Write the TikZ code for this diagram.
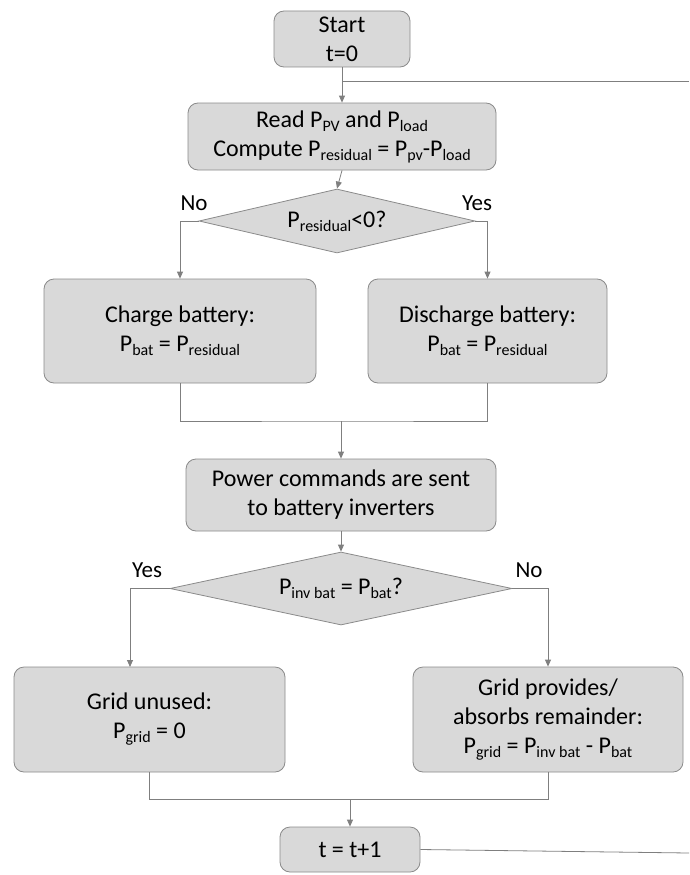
\documentclass[tikz,border=0pt]{standalone}
\usepackage{fontspec}
\setmainfont{Carlito}
\usetikzlibrary{shapes.geometric,arrows.meta}
\definecolor{boxfill}{HTML}{D9D9D9}
\definecolor{boxedge}{HTML}{8A8A8A}
\definecolor{linegray}{HTML}{7F7F7F}
\newcommand{\lowsub}[1]{\raisebox{-4pt}{\fontsize{16}{16}\selectfont #1}}
\tikzset{
	flowbox/.style={draw=boxedge, fill=boxfill, line width=0.8pt, rounded corners=10pt, align=center, inner sep=0pt, font=\fontsize{24}{29}\selectfont},
	decision/.style={draw=boxedge, fill=boxfill, line width=0.8pt, diamond, inner sep=0pt, font=\fontsize{24}{29}\selectfont},
	flowline/.style={draw=linegray, line width=0.8pt},
	flowarrow/.style={flowline, -{Triangle[length=7pt,width=6pt]}},
	branchlabel/.style={font=\fontsize{23}{28}\selectfont, inner sep=0pt}
}
\begin{document}
\begin{tikzpicture}[x=1pt, y=-1pt]
	\useasboundingbox (0,0) rectangle (689,875);
	% boxes
	\node[flowbox, minimum width=136pt, minimum height=56pt] (start) at (342,39) {Start\\t=0};
	\node[flowbox, minimum width=308pt, minimum height=67pt] (read) at (342,136.5)
		{Read P\lowsub{PV} and P\lowsub{load}\\Compute P\lowsub{residual} = P\lowsub{pv}-P\lowsub{load}};
	\node[decision, aspect=4.3, minimum width=276pt, minimum height=64pt] (check) at (337,221) {P\lowsub{residual}<0?};
	\node[flowbox, minimum width=272pt, minimum height=104pt] (charge) at (180,331)
		{Charge battery:\\P\lowsub{bat} = P\lowsub{residual}};
	\node[flowbox, minimum width=239pt, minimum height=104pt] (discharge) at (487.5,331)
		{Discharge battery:\\P\lowsub{bat} = P\lowsub{residual}};
	\node[flowbox, minimum width=310pt, minimum height=72pt] (send) at (341,495)
		{Power commands are sent\\to battery inverters};
	\node[decision, aspect=4.6, minimum width=342pt, minimum height=73pt] (match) at (341,588.5) {P\lowsub{inv bat} = P\lowsub{bat}?};
	\node[flowbox, minimum width=271pt, minimum height=105pt] (unused) at (149.5,719.5)
		{Grid unused:\\P\lowsub{grid} = 0};
	\node[flowbox, minimum width=270pt, minimum height=105pt] (remainder) at (548,719.5)
		{Grid provides/\\absorbs remainder:\\P\lowsub{grid} = P\lowsub{inv bat} - P\lowsub{bat}};
	\node[flowbox, minimum width=140pt, minimum height=45pt] (tnext) at (350,849.5) {t = t+1};
	% branch labels
	\node[branchlabel] (nocheck) at (194,203) {No};
	\node[branchlabel] (yescheck) at (477,203) {Yes};
	\node[branchlabel] (yesmatch) at (147,570) {Yes};
	\node[branchlabel] (nomatch) at (529,570) {No};
	% connectors
	\coordinate (loopin) at (689,81);
	\coordinate (loopout) at (689,853);
	\coordinate (merge1) at (341,421);
	\coordinate (merge2) at (350,799);
	\coordinate (unusedin) at (130,667);
	\draw[flowarrow] (start.south) -- (read.north);
	\draw[flowline] (loopin) -- (loopin -| start.south);
	\draw[flowarrow] (read.south) -- (check.north);
	\draw[flowarrow] (check.west) -| (charge.north);
	\draw[flowarrow] (check.east) -| (discharge.north);
	\draw[flowline] (charge.south) |- (merge1) -| (discharge.south);
	\draw[flowarrow] (merge1) -- (send.north);
	\draw[flowarrow] (send.south) -- (match.north);
	\draw[flowarrow] (match.west) -| (unusedin);
	\draw[flowarrow] (match.east) -| (remainder.north);
	\draw[flowline] (unused.south) |- (merge2) -| (remainder.south);
	\draw[flowarrow] (merge2) -- (tnext.north);
	\draw[flowline] (tnext.east) -- (loopout);
\end{tikzpicture}
\end{document}
